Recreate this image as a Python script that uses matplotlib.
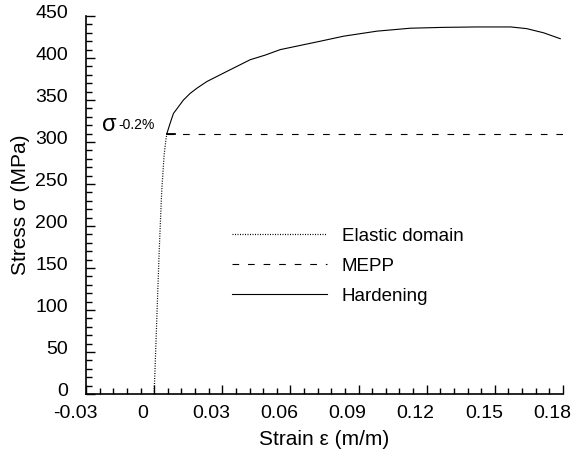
import matplotlib
matplotlib.use("Agg")
import matplotlib.pyplot as plt
from matplotlib.lines import Line2D
from matplotlib.ticker import MultipleLocator
from matplotlib.transforms import ScaledTranslation

plt.rcParams['font.family'] = ['Liberation Sans', 'DejaVu Sans']

# elastic branch (strain, stress MPa)
elastic_strain = [0.0, 0.0011, 0.0022, 0.0033, 0.0044, 0.0052, 0.0056]
elastic_stress = [0, 84, 168, 240, 285, 303, 310]

# hardening branch
hard_strain = [0.0056, 0.0070, 0.0085, 0.0107, 0.0129, 0.0159, 0.0188, 0.0232,
               0.0305, 0.0364, 0.0423, 0.0489, 0.0555, 0.0643, 0.0731,
               0.0834, 0.0981, 0.1128, 0.1274, 0.1422, 0.157, 0.164, 0.1715, 0.1788]
hard_stress = [310, 322, 334, 342, 350, 358, 364, 372,
               382, 390, 398, 403.5, 410, 415, 420,
               426, 432, 435.5, 436.5, 437, 437, 435, 430, 423]

# MEPP plateau
mepp_strain = [0.0056, 0.18]
mepp_stress = [310, 310]

fig = plt.figure(figsize=(5.71, 4.58), dpi=100)
ax = fig.add_axes([0.1506, 0.1397, 0.8354, 0.8253])

ax.plot(elastic_strain, elastic_stress, color="black", lw=0.9, linestyle=(0, (0.8, 1.2)))
ax.plot(mepp_strain, mepp_stress, color="black", lw=0.8, dashes=(6, 8))
ax.plot(hard_strain, hard_stress, color="black", lw=0.8)
# small tick at yield point
ax.plot([0.0056, 0.0090], [310, 310], color="black", lw=1.3)

ax.set_xlim(-0.03, 0.18)
ax.set_ylim(0, 450)
ax.xaxis.set_major_locator(MultipleLocator(0.03))
ax.xaxis.set_minor_locator(MultipleLocator(0.006))
ax.yaxis.set_major_locator(MultipleLocator(50))
ax.yaxis.set_minor_locator(MultipleLocator(10))
ax.xaxis.set_major_formatter(plt.FuncFormatter(lambda v, p: "0" if abs(v) < 1e-9 else f"{v:.2f}"))

for s in ["top", "right"]:
    ax.spines[s].set_visible(False)
for s in ["left", "bottom"]:
    ax.spines[s].set_linewidth(1.2)

ax.tick_params(which="both", direction="in", labelsize=14, width=1.0)
ax.tick_params(axis="x", pad=8)
ax.tick_params(axis="y", pad=13)
ax.tick_params(which="major", length=6.5)
ax.tick_params(which="minor", length=4)

fig.canvas.draw()
for lab in ax.get_xticklabels():
    lab.set_transform(lab.get_transform() + ScaledTranslation(-0.11, 0, fig.dpi_scale_trans))
for lab in ax.get_yticklabels():
    lab.set_transform(lab.get_transform() + ScaledTranslation(0, 0.05, fig.dpi_scale_trans))

ax.set_xlabel("Strain ε (m/m)", fontsize=15, labelpad=6)
ax.set_ylabel("Stress σ (MPa)", fontsize=15, labelpad=4)

ax.text(0.178, 0.714, "σ", transform=fig.transFigure, fontsize=17, va="baseline")
ax.text(0.207, 0.718, "-0.2%", transform=fig.transFigure, fontsize=10, va="baseline")

handles = [
    Line2D([], [], color="black", lw=0.9, linestyle=(0, (0.8, 1.2))),
    Line2D([], [], color="black", lw=0.8, dashes=(6, 8)),
    Line2D([], [], color="black", lw=0.8),
]
ax.legend(handles, ["Elastic domain", "MEPP", "Hardening"], frameon=False,
          fontsize=13.5, handlelength=5.1, handletextpad=0.75, labelspacing=0.68,
          loc="upper left", bbox_to_anchor=(0.406, 0.503, 0.5, 0.0),
          bbox_transform=fig.transFigure, borderaxespad=0, borderpad=0)

fig.savefig("out.png", dpi=100)
